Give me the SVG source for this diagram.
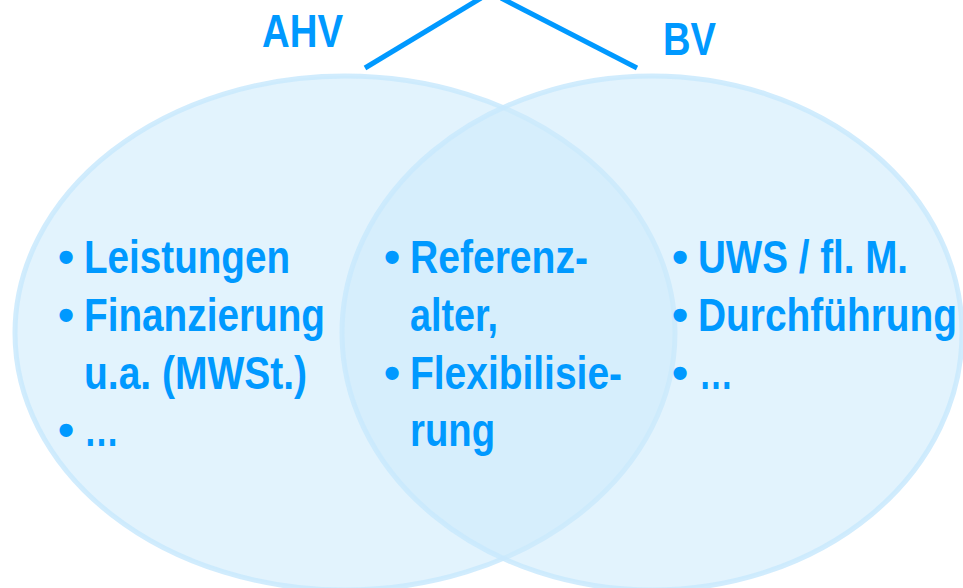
<svg xmlns="http://www.w3.org/2000/svg" width="963" height="588" viewBox="0 0 963 588">
<style>
.set{fill:rgb(206,235,252);fill-opacity:0.59;stroke:#c9e9fd;stroke-width:5;stroke-opacity:0.85}
.t{font-family:"Liberation Sans Narrow","Arial Narrow","Liberation Sans",Arial,sans-serif;font-weight:bold;font-size:46px;fill:#0099ff}
.b{font-family:"Liberation Sans",Arial,sans-serif;font-weight:bold;font-size:46px;fill:#0099ff;text-anchor:middle}
.ln{stroke:#0099ff;stroke-width:5;fill:none}
</style>
<rect width="963" height="588" fill="#ffffff"/>
<g id="connectors">
<line class="ln" x1="365" y1="68" x2="481" y2="-2"/>
<line class="ln" x1="501" y1="-2" x2="637" y2="68"/>
</g>
<g id="ahv">
<ellipse class="set" cx="345" cy="333" rx="330" ry="257"/>
<text class="t" x="262" y="47" textLength="81" lengthAdjust="spacingAndGlyphs">AHV</text>
</g>
<g id="bv">
<ellipse class="set" cx="652" cy="333" rx="310" ry="257"/>
<text class="t" x="663" y="55" textLength="53" lengthAdjust="spacingAndGlyphs">BV</text>
</g>
<g id="ahv-items">
<text class="b" x="66" y="273">•</text>
<text class="t" x="84" y="273" textLength="206" lengthAdjust="spacingAndGlyphs">Leistungen</text>
<text class="b" x="66" y="331">•</text>
<text class="t" x="84" y="331" textLength="241" lengthAdjust="spacingAndGlyphs">Finanzierung</text>
<text class="t" x="84" y="389" textLength="223" lengthAdjust="spacingAndGlyphs">u.a. (MWSt.)</text>
<text class="b" x="66" y="446">•</text>
<text class="t" x="84" y="446" textLength="35" lengthAdjust="spacingAndGlyphs">…</text>
</g>
<g id="common-items">
<text class="b" x="392" y="273">•</text>
<text class="t" x="410" y="273" textLength="178" lengthAdjust="spacingAndGlyphs">Referenz-</text>
<text class="t" x="410" y="331" textLength="88" lengthAdjust="spacingAndGlyphs">alter,</text>
<text class="b" x="392" y="389">•</text>
<text class="t" x="410" y="389" textLength="212" lengthAdjust="spacingAndGlyphs">Flexibilisie-</text>
<text class="t" x="410" y="446" textLength="85" lengthAdjust="spacingAndGlyphs">rung</text>
</g>
<g id="bv-items">
<text class="b" x="680" y="273">•</text>
<text class="t" x="698" y="273" textLength="210" lengthAdjust="spacingAndGlyphs">UWS / fl. M.</text>
<text class="b" x="680" y="331">•</text>
<text class="t" x="698" y="331" textLength="259" lengthAdjust="spacingAndGlyphs">Durchführung</text>
<text class="b" x="680" y="389">•</text>
<text class="t" x="699" y="389" textLength="34" lengthAdjust="spacingAndGlyphs">…</text>
</g>
</svg>
